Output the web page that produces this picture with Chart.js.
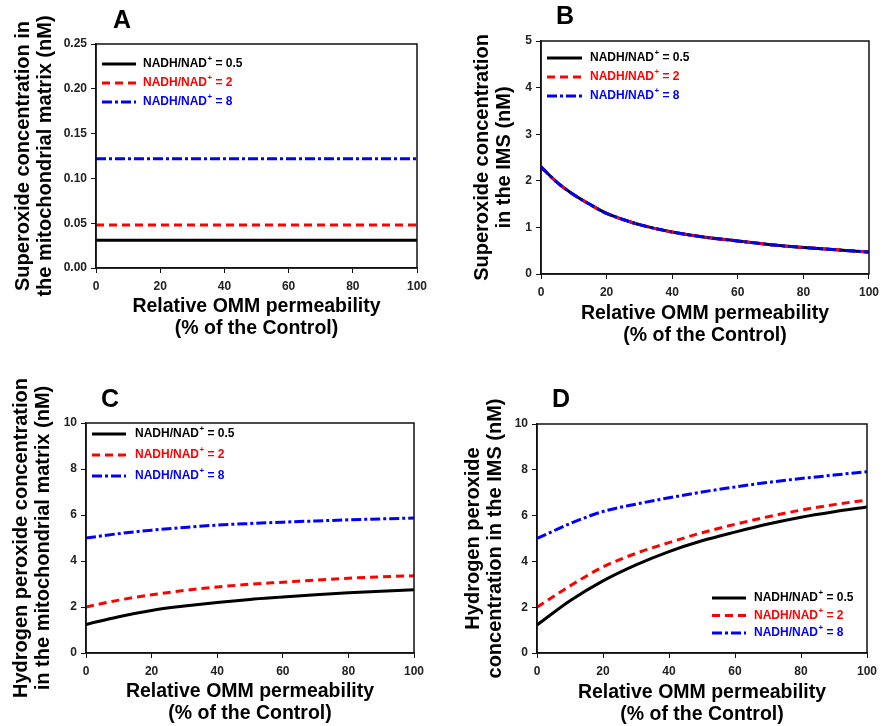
<!DOCTYPE html>
<html>
<head>
<meta charset="utf-8">
<script src="https://cdn.jsdelivr.net/npm/chart.js@4/dist/chart.umd.min.js"></script>
<style>
  html, body { margin: 0; padding: 0; background: #fff; }
  body { width: 885px; height: 726px; position: relative; overflow: hidden; }
  canvas { position: absolute; }
</style>
</head>
<body>
<canvas id="cA" width="440" height="370" style="left:0px;top:0px"></canvas>
<canvas id="cB" width="445" height="370" style="left:440px;top:0px"></canvas>
<canvas id="cC" width="440" height="356" style="left:0px;top:370px"></canvas>
<canvas id="cD" width="445" height="356" style="left:440px;top:370px"></canvas>
<script>
// ---------- data ----------
const seriesLabels = ['0.5', '2', '8'];
const xTitle = ['Relative OMM permeability', '(% of the Control)'];

// Panel A: superoxide in matrix (nM)
const xA = [0, 20, 40, 60, 80, 100];
const aRatio05 = [0.031, 0.031, 0.031, 0.031, 0.031, 0.031];
const aRatio2  = [0.048, 0.048, 0.048, 0.048, 0.048, 0.048];
const aRatio8  = [0.122, 0.122, 0.122, 0.122, 0.122, 0.122];
const aYTitle = ['Superoxide concentration in', 'the mitochondrial matrix (nM)'];

// Panel B: superoxide in IMS (nM)
const xB = [0, 5, 10, 15, 20, 25, 30, 40, 50, 60, 70, 80, 90, 100];
const bRatio05 = [2.30, 1.96, 1.70, 1.49, 1.30, 1.17, 1.06, 0.90, 0.79, 0.71, 0.63, 0.57, 0.52, 0.47];
const bRatio2  = [2.30, 1.96, 1.70, 1.49, 1.30, 1.17, 1.06, 0.90, 0.79, 0.71, 0.63, 0.57, 0.52, 0.47];
const bRatio8  = [2.30, 1.96, 1.70, 1.49, 1.30, 1.17, 1.06, 0.90, 0.79, 0.71, 0.63, 0.57, 0.52, 0.47];
const bYTitle = ['Superoxide concentration', 'in the IMS (nM)'];

// Panel C: H2O2 in matrix (nM)
const xC = [0, 10, 20, 30, 40, 50, 60, 70, 80, 90, 100];
const cRatio05 = [1.24, 1.58, 1.85, 2.04, 2.20, 2.33, 2.43, 2.53, 2.62, 2.69, 2.75];
const cRatio2  = [2.00, 2.30, 2.53, 2.72, 2.87, 2.99, 3.08, 3.17, 3.25, 3.31, 3.36];
const cRatio8  = [5.00, 5.19, 5.34, 5.46, 5.56, 5.63, 5.69, 5.74, 5.79, 5.83, 5.87];
const cYTitle = ['Hydrogen peroxide concentration', 'in the mitochondrial matrix (nM)'];

// Panel D: H2O2 in IMS (nM)
const xD = [0, 10, 20, 30, 40, 50, 60, 70, 80, 90, 100];
const dRatio05 = [1.22, 2.28, 3.15, 3.85, 4.43, 4.90, 5.28, 5.63, 5.93, 6.17, 6.38];
const dRatio2  = [2.00, 2.93, 3.76, 4.35, 4.82, 5.25, 5.62, 5.95, 6.24, 6.48, 6.68];
const dRatio8  = [5.00, 5.65, 6.18, 6.50, 6.78, 7.03, 7.25, 7.45, 7.62, 7.77, 7.92];
const dYTitle = ['Hydrogen peroxide', 'concentration in the IMS (nM)'];

// ---------- styling ----------
const FONT = "'Liberation Sans', Arial, Helvetica, sans-serif";
const styles = [
  { color: '#000000', dash: [] , order: 3 },
  { color: '#ff0000', dash: [8, 5], order: 2 },
  { color: '#0000ff', dash: [10, 3, 3, 3], order: 1 }
];

const decorPlugin = {
  id: 'decor',
  afterDraw(chart) {
    const o = chart.options.plugins.decor;
    const ctx = chart.ctx;
    const a = chart.chartArea;
    ctx.save();
    // frame
    ctx.setLineDash([]);
    ctx.strokeStyle = '#111';
    ctx.lineWidth = 1.5;
    ctx.strokeRect(a.left, a.top, a.right - a.left, a.bottom - a.top);
    // panel letter
    ctx.fillStyle = '#000';
    ctx.font = 'bold 25px ' + FONT;
    ctx.textAlign = 'center';
    ctx.textBaseline = 'middle';
    ctx.fillText(o.letter, o.letterX, o.letterY);
    // legend
    const L = o.legend;
    ctx.textAlign = 'left';
    chart.data.datasets.forEach((ds, i) => {
      const y = L.y + i * L.dy;
      ctx.strokeStyle = ds.borderColor;
      ctx.lineWidth = 3;
      ctx.setLineDash(ds.borderDash || []);
      ctx.beginPath();
      ctx.moveTo(L.x, y);
      ctx.lineTo(L.x + L.len, y);
      ctx.stroke();
      ctx.setLineDash([]);
      ctx.fillStyle = ds.borderColor;
      ctx.font = 'bold 12px ' + FONT;
      let tx = L.tx;
      ctx.fillText('NADH/NAD', tx, y);
      tx += ctx.measureText('NADH/NAD').width + 0.5;
      ctx.font = 'bold 8px ' + FONT;
      ctx.fillText('+', tx, y - 5);
      tx += ctx.measureText('+').width;
      ctx.font = 'bold 12px ' + FONT;
      ctx.fillText(' = ' + ds.label, tx, y);
    });
    ctx.restore();
  }
};

function makeChart(id, p) {
  const datasets = p.series.map((vals, i) => ({
    label: seriesLabels[i],
    data: p.xs.map((x, j) => ({ x: x, y: vals[j] })),
    borderColor: styles[i].color,
    borderDash: styles[i].dash,
    order: styles[i].order,
    borderWidth: 3,
    pointRadius: 0,
    fill: false,
    tension: 0.4,
    cubicInterpolationMode: 'monotone'
  }));
  return new Chart(document.getElementById(id), {
    type: 'line',
    data: { datasets },
    plugins: [decorPlugin],
    options: {
      responsive: false,
      animation: false,
      devicePixelRatio: 1,
      layout: { padding: { top: p.padTop, right: p.padRight, left: 0, bottom: 0 } },
      plugins: {
        legend: { display: false },
        tooltip: { enabled: false },
        decor: { letter: p.letter, letterX: p.letterX, letterY: p.letterY, legend: p.legend }
      },
      scales: {
        x: {
          type: 'linear', min: 0, max: 100,
          afterFit(s) { s.height = p.xH; },
          ticks: { stepSize: 20, color: '#222', padding: 6, maxRotation: 0,
                   font: { family: FONT, size: 12, weight: 'bold' } },
          grid: { drawOnChartArea: false, drawTicks: true, tickLength: 5, color: '#111', lineWidth: 1 },
          border: { display: true, color: '#111', width: 1.5 },
          title: { display: true, text: xTitle, color: '#000', padding: { top: 0, bottom: p.xtPad },
                   font: { family: FONT, size: 19.5, weight: 'bold', lineHeight: 1.128 } }
        },
        y: {
          type: 'linear', min: 0, max: p.ymax,
          afterFit(s) { s.width = p.yW; },
          ticks: { stepSize: p.ystep, color: '#222', padding: 4,
                   callback: v => v.toFixed(p.dec),
                   font: { family: FONT, size: 12, weight: 'bold' } },
          grid: { drawOnChartArea: false, drawTicks: true, tickLength: 5, color: '#111', lineWidth: 1 },
          border: { display: true, color: '#111', width: 1.5 },
          title: { display: true, text: p.yTitle, color: '#000', padding: { top: p.ytPad, bottom: 0 },
                   font: { family: FONT, size: 20, weight: 'bold', lineHeight: 1.1 } }
        }
      }
    }
  });
}

makeChart('cA', {
  xs: xA, series: [aRatio05, aRatio2, aRatio8], ymax: 0.25, ystep: 0.05, dec: 2,
  yTitle: aYTitle, padTop: 44, padRight: 23, yW: 96, xH: 102, ytPad: 12, xtPad: 30,
  letter: 'A', letterX: 122, letterY: 21,
  legend: { x: 102, len: 34, tx: 143, y: 64, dy: 19 }
});
makeChart('cB', {
  xs: xB, series: [bRatio05, bRatio2, bRatio8], ymax: 5, ystep: 1, dec: 0,
  yTitle: bYTitle, padTop: 41, padRight: 10, yW: 101, xH: 96, ytPad: 31, xtPad: 23,
  letter: 'B', letterX: 125, letterY: 17,
  legend: { x: 107, len: 35, tx: 150, y: 58, dy: 19 }
});
makeChart('cC', {
  xs: xC, series: [cRatio05, cRatio2, cRatio8], ymax: 10, ystep: 2, dec: 0,
  yTitle: cYTitle, padTop: 53, padRight: 26, yW: 86, xH: 73, ytPad: 10, xtPad: 1,
  letter: 'C', letterX: 110, letterY: 30,
  legend: { x: 92, len: 34, tx: 135, y: 64, dy: 21 }
});
makeChart('cD', {
  xs: xD, series: [dRatio05, dRatio2, dRatio8], ymax: 10, ystep: 2, dec: 0,
  yTitle: dYTitle, padTop: 54, padRight: 18, yW: 97, xH: 73, ytPad: 22, xtPad: 0,
  letter: 'D', letterX: 121, letterY: 30,
  legend: { x: 272, len: 34, tx: 314, y: 228, dy: 17.5 }
});
</script>
</body>
</html>
